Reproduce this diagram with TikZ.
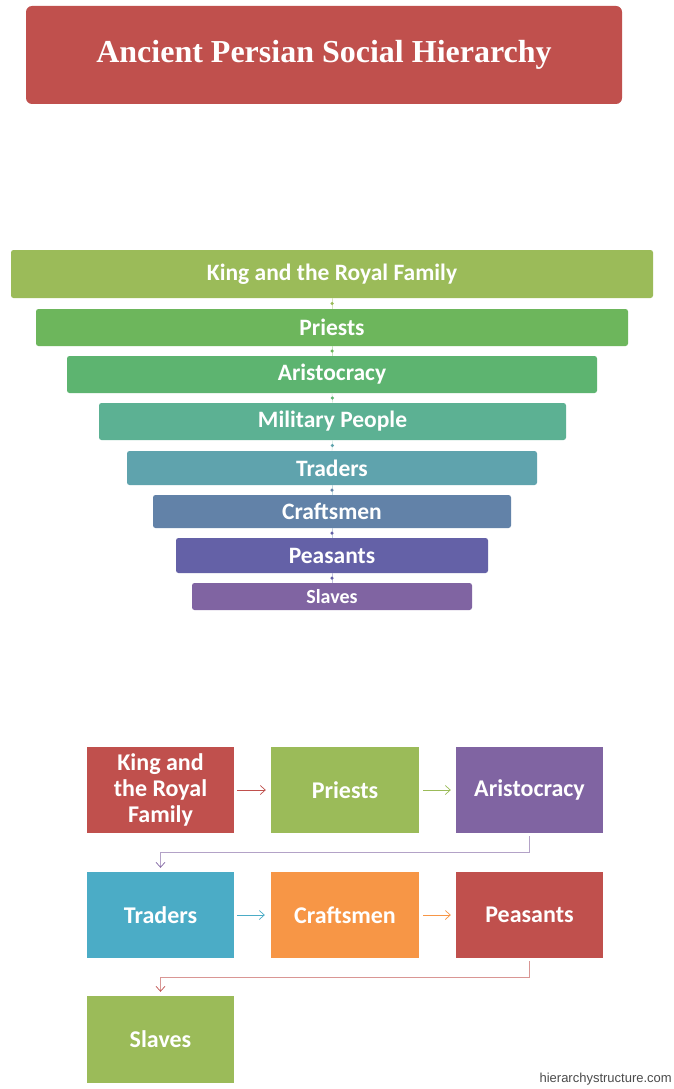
\documentclass[tikz,border=0pt]{standalone}
\usepackage{fontspec}
\setmainfont{Carlito}
\newfontfamily\titlefont{Liberation Serif}
\newfontfamily\wmfont{Liberation Sans}
\usetikzlibrary{arrows.meta}
\definecolor{cred}{HTML}{C0504D}
\definecolor{cgreen}{HTML}{9BBB59}
\definecolor{cpurple}{HTML}{8064A2}
\definecolor{cblue}{HTML}{4BACC6}
\definecolor{corange}{HTML}{F79646}
\definecolor{b1}{HTML}{9BBB59}
\definecolor{b2}{HTML}{6DB65C}
\definecolor{b3}{HTML}{5DB470}
\definecolor{b4}{HTML}{5CB193}
\definecolor{b5}{HTML}{5FA3AD}
\definecolor{b6}{HTML}{6282A8}
\definecolor{b7}{HTML}{6461A7}
\definecolor{b8}{HTML}{8064A2}
\begin{document}
\begin{tikzpicture}[x=1pt,y=-1pt,
  bar/.style={rounded corners=2.5pt, inner sep=0pt, text=white, font=\bfseries\fontsize{23.5}{25}\selectfont},
  fbox/.style={inner sep=0pt, minimum width=147pt, minimum height=86pt, text=white, align=center, font=\bfseries\fontsize{24}{26}\selectfont},
  link/.style={line width=0.4pt},
  dotn/.style={circle, inner sep=0pt, minimum size=3.5pt},
  arr/.style={line width=0.7pt, -{Straight Barb[length=5pt,width=9pt]}}
]
\useasboundingbox (0,0) rectangle (673,1089);
\fill[white] (0,0) rectangle (673,1089);

% title
\node[fill=cred, rounded corners=6pt, minimum width=596pt, minimum height=98pt, inner sep=0pt, text=white, font=\titlefont\bfseries\fontsize{32}{34}\selectfont] (title) at (324,55) {Ancient Persian Social Hierarchy};

% pyramid bars
\node[bar, fill=b1, minimum width=642pt, minimum height=48pt] (p1) at (332,274) {King and the Royal Family};
\node[bar, fill=b2, minimum width=592pt, minimum height=37pt] (p2) at (332,327.5) {Priests};
\node[bar, fill=b3, minimum width=530pt, minimum height=37pt] (p3) at (332,374.5) {Aristocracy};
\node[bar, fill=b4, minimum width=467pt, minimum height=37pt] (p4) at (332.5,421.5) {Military People};
\node[bar, fill=b5, minimum width=410pt, minimum height=34pt] (p5) at (332,468) {Traders};
\node[bar, fill=b6, minimum width=358pt, minimum height=33pt] (p6) at (332,511.5) {Craftsmen};
\node[bar, fill=b7, minimum width=312pt, minimum height=35pt] (p7) at (332,555.5) {Peasants};
\node[bar, fill=b8, minimum width=280pt, minimum height=27pt, font=\bfseries\fontsize{20}{22}\selectfont] (p8) at (332,596.5) {Slaves};

\draw[link, b1!40] (p1.south) -- node[dotn, fill=b1]{} (p2.north);
\draw[link, b2!40] (p2.south) -- node[dotn, fill=b2]{} (p3.north);
\draw[link, b3!40] (p3.south) -- node[dotn, fill=b3]{} (p4.north);
\draw[link, b4!40] (p4.south) -- node[dotn, fill=b5]{} (p5.north);
\draw[link, b5!40] (p5.south) -- node[dotn, fill=b6]{} (p6.north);
\draw[link, b6!40] (p6.south) -- node[dotn, fill=b7]{} (p7.north);
\draw[link, b7!40] (p7.south) -- node[dotn, fill=b7]{} (p8.north);

% flow boxes
\node[fbox, fill=cred] (f1) at (160.5,790) {King and\\the Royal\\Family};
\node[fbox, fill=cgreen, minimum width=148pt] (f2) at (345,790) {Priests};
\node[fbox, fill=cpurple] (f3) at (529.5,790) {Aristocracy};
\node[fbox, fill=cblue] (f4) at (160.5,915) {Traders};
\node[fbox, fill=corange, minimum width=148pt] (f5) at (345,915) {Craftsmen};
\node[fbox, fill=cred] (f6) at (529.5,915) {Peasants};
\node[fbox, fill=cgreen, minimum height=87pt] (f7) at (160.5,1039.5) {Slaves};

\draw[arr, cred, shorten <=3pt, shorten >=5pt] (f1) -- (f2);
\draw[arr, cgreen, shorten <=4pt, shorten >=5pt] (f2) -- (f3);
\draw[arr, cblue, shorten <=3pt, shorten >=6pt] (f4) -- (f5);
\draw[arr, corange, shorten <=4pt, shorten >=5pt] (f5) -- (f6);
\draw[line width=0.7pt, cpurple!60, -{Straight Barb[length=5pt,width=9pt,color=cpurple]}, shorten <=3pt, shorten >=4pt] (f3.south) -- ++(0,19) -| (f4.north);
\draw[line width=0.7pt, cred!60, -{Straight Barb[length=5pt,width=9pt,color=cred]}, shorten <=3pt, shorten >=4pt] (f6.south) -- ++(0,19) -| (f7.north);

% watermark
\node[anchor=east, inner sep=0pt, text=black!70, font=\wmfont\fontsize{13}{14}\selectfont] (wm) at (672,1079) {hierarchystructure.com};
\end{tikzpicture}
\end{document}
